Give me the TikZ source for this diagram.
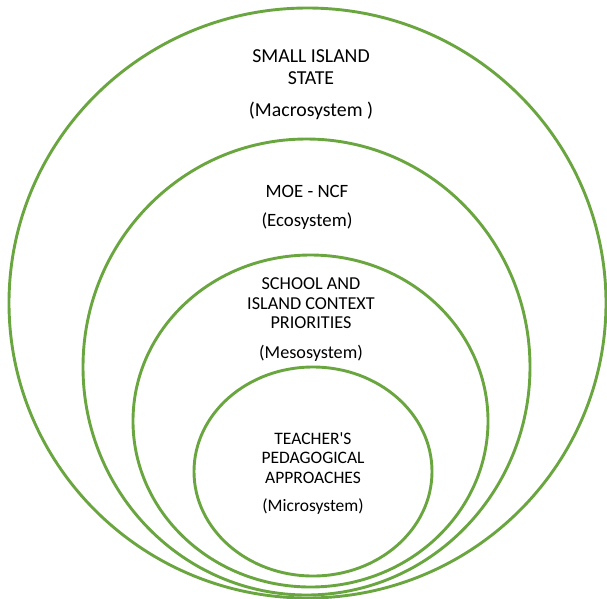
\documentclass[tikz,border=0pt]{standalone}
\usepackage{fontspec}
\setmainfont{Carlito}
\usetikzlibrary{shapes.geometric}
\definecolor{ringgreen}{HTML}{6AA63F}

\begin{document}
\begin{tikzpicture}[
        x=1pt, y=-1pt,
        ring/.style={draw=ringgreen, line width=2.9pt, ellipse, inner sep=0pt},
        lbl/.style={align=center, inner sep=0pt, anchor=base, text=black}
    ]

    \useasboundingbox (0,0) rectangle (607,598);

    % nested system rings
    \node[ring, minimum width=597pt, minimum height=590pt] (macroring) at (307.5,303) {};
    \node[ring, minimum width=447pt, minimum height=456pt] (ecoring) at (306.5,367) {};
    \node[ring, minimum width=355pt, minimum height=332pt] (mesoring) at (310.5,421) {};
    \node[ring, minimum width=238pt, minimum height=209pt] (microring) at (313,471.5) {};

    % labels (placed by the baseline of their last line)
    \node[lbl, font=\fontsize{19.8}{22}\selectfont] (macrotxt) at (311,116.7)
        {SMALL ISLAND\\STATE\\[10.4pt](Macrosystem )};
    \node[lbl, font=\fontsize{18.8}{29}\selectfont] (ecotxt) at (307,226.7)
        {MOE - NCF\\(Ecosystem)};
    \node[lbl, font=\fontsize{18.2}{19.2}\selectfont] (mesotxt) at (311,358.3)
        {SCHOOL AND\\ISLAND CONTEXT\\PRIORITIES\\[10.8pt](Mesosystem)};
    \node[lbl, font=\fontsize{17.5}{19.5}\selectfont] (microtxt) at (313,511)
        {TEACHER\textquotesingle S\\PEDAGOGICAL\\APPROACHES\\[8.2pt](Microsystem)};

\end{tikzpicture}
\end{document}
